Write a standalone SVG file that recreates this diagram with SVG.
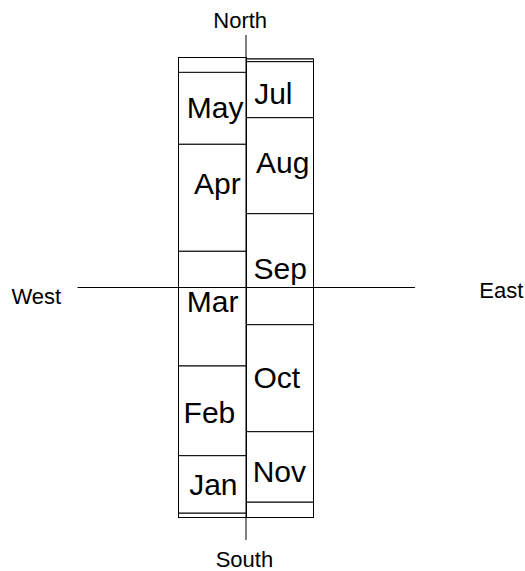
<svg xmlns="http://www.w3.org/2000/svg" width="525" height="571" viewBox="0 0 525 571">
<style>
.cell{fill:#fff;stroke:#000;stroke-width:1}
.axis{stroke:#000;stroke-width:1;fill:none}
.m{font-family:"Liberation Sans",Arial,sans-serif;font-size:30px;fill:#000}
.c{font-family:"Liberation Sans",Arial,sans-serif;font-size:22px;fill:#000}
</style>
<rect width="525" height="571" fill="#fff"/>
<g id="left-column">
<rect class="cell" x="178.5" y="57.5" width="68" height="460"/>
<rect class="cell" x="178.5" y="57.5" width="68" height="15"/>
<rect class="cell" x="178.5" y="513" width="68" height="4.5"/>
</g>
<g id="right-column">
<rect class="cell" x="246.5" y="59" width="67" height="458.5"/>
<rect class="cell" x="246.5" y="59" width="67" height="2.7"/>
<rect class="cell" x="246.5" y="502" width="67" height="15.5"/>
</g>
<g id="jun"></g>
<g id="may"><rect class="cell" x="178.5" y="72.3" width="68" height="72"/><text class="m" x="186.8" y="118.3">May</text></g>
<g id="apr"><rect class="cell" x="178.5" y="144.3" width="68" height="107"/><text class="m" x="194" y="194.3">Apr</text></g>
<g id="mar"><rect class="cell" x="178.5" y="251.3" width="68" height="114.7"/><text class="m" x="186.8" y="311.5">Mar</text></g>
<g id="feb"><rect class="cell" x="178.5" y="366" width="68" height="89.7"/><text class="m" x="183.6" y="422.7">Feb</text></g>
<g id="jan"><rect class="cell" x="178.5" y="455.7" width="68" height="57.3"/><text class="m" x="189.2" y="495">Jan</text></g>
<g id="jul"><rect class="cell" x="246.5" y="61.7" width="67" height="56"/><text class="m" x="254.2" y="104.3">Jul</text></g>
<g id="aug"><rect class="cell" x="246.5" y="117.7" width="67" height="96"/><text class="m" x="256" y="173.3">Aug</text></g>
<g id="sep"><rect class="cell" x="246.5" y="213.7" width="67" height="111"/><text class="m" x="253.6" y="279.3">Sep</text></g>
<g id="oct"><rect class="cell" x="246.5" y="324.7" width="67" height="107"/><text class="m" x="253.5" y="388.3">Oct</text></g>
<g id="nov"><rect class="cell" x="246.5" y="431.7" width="67" height="70.3"/><text class="m" x="252.7" y="481.7">Nov</text></g>
<g id="connectors">
<line class="axis" x1="246" y1="35" x2="246" y2="540"/>
<line class="axis" x1="77.5" y1="287.5" x2="415" y2="287.5"/>
</g>
<g id="labels">
<text class="c" x="213.3" y="28.3">North</text>
<text class="c" x="215.7" y="566.5">South</text>
<text class="c" x="11.5" y="304.3">West</text>
<text class="c" x="479.3" y="297.7">East</text>
</g>
</svg>
